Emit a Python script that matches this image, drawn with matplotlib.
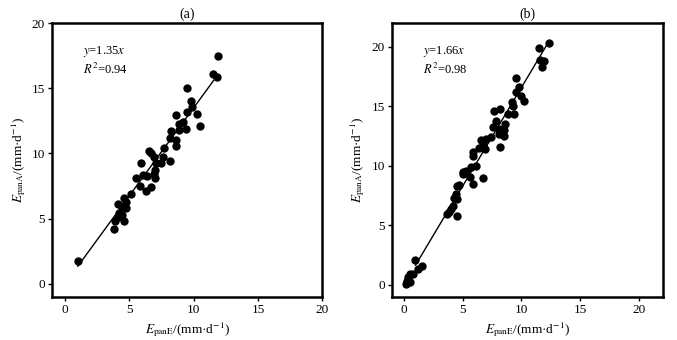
import matplotlib
matplotlib.use("Agg")
import matplotlib.pyplot as plt

plt.rcParams['font.family'] = ['Liberation Serif', 'DejaVu Serif']
plt.rcParams['mathtext.fontset'] = 'stix'

# panel (a)
a_x = [11.9, 11.5, 11.8, 9.5, 9.8, 9.85, 9.5, 10.3, 10.5, 8.6, 8.9, 9.2, 9.4,
       8.25, 8.85, 8.2, 8.6, 8.6, 7.7, 6.5, 6.7, 6.95, 7.65, 7.1, 7.5, 8.2,
       5.9, 7.0, 5.5, 6.1, 6.4, 6.9, 7.0, 5.8, 6.3, 6.7, 5.1, 4.55, 4.75,
       4.1, 4.4, 4.75, 4.2, 4.4, 4.1, 3.9, 4.6, 3.8, 1.0]
a_y = [17.5, 16.1, 15.9, 15.0, 14.0, 13.6, 13.15, 13.0, 12.1, 12.95, 12.25,
       12.4, 11.9, 11.7, 11.8, 11.2, 11.0, 10.6, 10.4, 10.15, 10.0, 9.7, 9.7,
       9.3, 9.3, 9.45, 9.25, 8.7, 8.1, 8.35, 8.3, 8.45, 8.15, 7.5, 7.1, 7.4,
       6.9, 6.6, 6.3, 6.15, 5.9, 5.85, 5.45, 5.3, 5.1, 4.85, 4.8, 4.2, 1.75]
a_slope = 1.35
a_r2 = 0.94
a_fit_range = [1.0, 11.7]

# panel (b)
b_x = [12.3, 11.45, 11.6, 11.9, 11.7, 9.5, 9.8, 9.55, 10.0, 10.2, 9.2, 9.3,
       9.35, 8.85, 8.2, 7.7, 7.8, 7.6, 8.05, 8.6, 8.5, 8.55, 8.1, 8.15, 7.4,
       7.0, 6.55, 6.75, 6.9, 6.4, 5.85, 5.9, 6.1, 5.7, 5.3, 5.0, 5.0, 5.6,
       6.7, 5.9, 4.5, 4.7, 4.4, 4.55, 4.3, 4.2, 4.0, 3.85, 3.7, 4.5, 0.95,
       1.55, 1.2, 0.75, 0.5, 0.35, 0.25, 0.3, 0.5, 0.15]
b_y = [20.3, 19.9, 18.9, 18.8, 18.3, 17.4, 16.6, 16.2, 15.9, 15.45, 15.4,
       15.05, 14.35, 14.35, 14.8, 14.6, 13.8, 13.3, 13.1, 13.5, 13.0, 12.5,
       12.7, 11.6, 12.4, 12.25, 12.2, 11.8, 11.4, 11.5, 11.2, 10.85, 10.0,
       9.9, 9.6, 9.45, 9.3, 9.1, 8.95, 8.5, 8.35, 8.4, 7.65, 7.2, 7.3, 6.65,
       6.4, 6.15, 5.95, 5.75, 2.1, 1.6, 1.3, 0.9, 0.9, 0.65, 0.35, 0.15,
       0.25, 0.1]
b_slope = 1.66
b_r2 = 0.98
b_fit_range = [1.0, 12.3]

xlabel = r'$E_{\mathrm{panE}}$/(mm·d$^{-1}$)'
ylabel = r'$E_{\mathrm{panA}}$/(mm·d$^{-1}$)'

fig = plt.figure(figsize=(6.77, 3.40), dpi=100)
ax1 = fig.add_axes([0.077, 0.127, 0.399, 0.805])
ax2 = fig.add_axes([0.579, 0.127, 0.400, 0.805])

panels = [
    (ax1, a_x, a_y, a_slope, a_r2, a_fit_range, '(a)', (-1, 20), (-1, 20)),
    (ax2, b_x, b_y, b_slope, b_r2, b_fit_range, '(b)', (-1, 22), (-1, 22)),
]

for ax, xs, ys, k, r2, fr, title, xlim, ylim in panels:
    ax.scatter(xs, ys, s=36, color='black', zorder=3, linewidths=0)
    ax.plot(fr, [k * v for v in fr], color='black', lw=1.0, zorder=2)
    ax.set_xlim(xlim)
    ax.set_ylim(ylim)
    ax.set_xticks([0, 5, 10, 15, 20])
    ax.set_yticks([0, 5, 10, 15, 20])
    for sp in ax.spines.values():
        sp.set_linewidth(1.8)
    ax.tick_params(direction='out', length=3, width=1, labelsize=9.5, pad=2)
    ax.set_title(title, fontsize=10, pad=4)
    ax.set_xlabel(xlabel, fontsize=9.5, labelpad=3)
    ax.set_ylabel(ylabel, fontsize=9.5, labelpad=3)
    ax.text(0.115, 0.895, r'$y$=%.2f$x$' % k, transform=ax.transAxes,
            fontsize=9, va='center')
    ax.text(0.115, 0.83, r'$R^2$=%.2f' % r2, transform=ax.transAxes,
            fontsize=9, va='center')

fig.savefig('out.png', dpi=100)
